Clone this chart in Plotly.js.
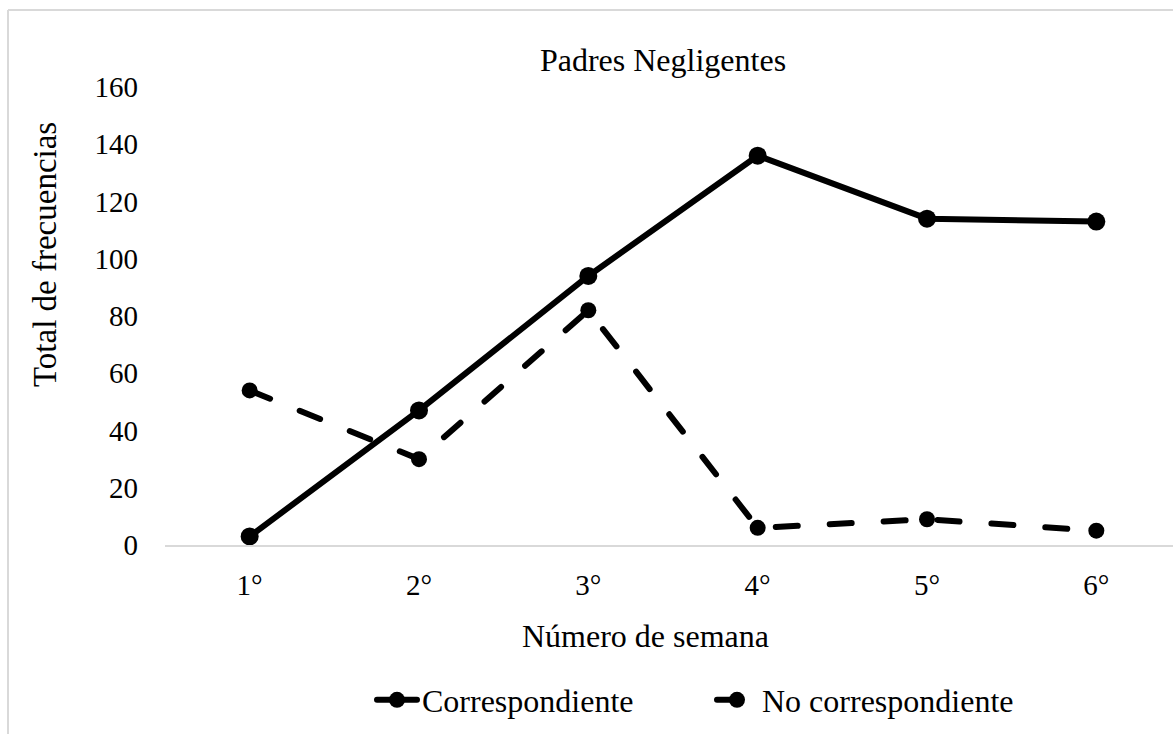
<!DOCTYPE html>
<html>
<head>
<meta charset="utf-8">
<script src="https://cdn.plot.ly/plotly-3.0.1.min.js"></script>
<style>
  html, body { margin: 0; padding: 0; background: #fff; }
  #chart { width: 1173px; height: 734px; }
  .scatterlayer .js-line, .legend .js-line { stroke-linecap: round !important; stroke-linejoin: round !important; }
</style>
</head>
<body>
<div id="chart"></div>
<script>
const weeks = ["1°", "2°", "3°", "4°", "5°", "6°"];
const correspondiente = [3, 47, 94, 136, 114, 113];
const noCorrespondiente = [54, 30, 82, 6, 9, 5];
const seriesNames = ["Correspondiente", "No correspondiente"];
const chartTitle = "Padres Negligentes";
const xTitle = "Número de semana";
const yTitle = "Total de frecuencias";
const yTicks = [0, 20, 40, 60, 80, 100, 120, 140, 160];

const font = "Liberation Serif, Times New Roman, serif";

const traces = [
  {
    x: weeks, y: correspondiente, name: seriesNames[0],
    type: "scatter", mode: "lines+markers",
    line: { color: "#000", width: 6 },
    marker: { color: "#000", size: 18, symbol: "circle" }
  },
  {
    x: weeks, y: noCorrespondiente, name: seriesNames[1],
    type: "scatter", mode: "lines+markers",
    line: { color: "#000", width: 6, dash: "22px,32px" },
    marker: { color: "#000", size: 16, symbol: "circle" }
  }
];

const L = 165, T = 87, B = 734 - 545, W = 1173 - L, H = 545 - T;
const px = v => (v - L) / W;
const py = v => (545 - v) / H;

const layout = {
  width: 1173, height: 734,
  margin: { l: L, r: 0, t: T, b: B },
  paper_bgcolor: "#fff", plot_bgcolor: "#fff",
  font: { family: font, size: 32, color: "#000" },
  showlegend: true,
  title: {
    text: chartTitle, font: { family: font, size: 32, color: "#000" },
    xref: "paper", x: px(663), xanchor: "center",
    yref: "container", y: 1 - 60 / 734, yanchor: "middle"
  },
  xaxis: {
    type: "category",
    range: [-0.5, 5.5 - (1181 - 1173) / 169.3],
    showgrid: false, zeroline: false,
    showline: true, linecolor: "#d9d9d9", linewidth: 2,
    ticks: "", ticklabelstandoff: 13,
    tickfont: { family: font, size: 29, color: "#000" },
    fixedrange: true
  },
  yaxis: {
    range: [0, 160], tickvals: yTicks,
    showgrid: false, zeroline: false, showline: false,
    ticks: "", ticklabelstandoff: 26,
    tickfont: { family: font, size: 29, color: "#000" },
    fixedrange: true
  },
  annotations: [
    { text: xTitle, xref: "paper", yref: "paper", x: px(645), y: py(636),
      xanchor: "center", yanchor: "middle", showarrow: false,
      font: { family: font, size: 32, color: "#000" } },
    { text: yTitle, xref: "paper", yref: "paper", x: px(45), y: py(255),
      xanchor: "center", yanchor: "middle", showarrow: false, textangle: -90,
      font: { family: font, size: 33, color: "#000" } }
  ],
  legend: {
    orientation: "h", xref: "paper", x: px(712), xanchor: "center",
    y: py(700), yanchor: "middle",
    font: { family: font, size: 32, color: "#000" },
    itemwidth: 40, entrywidth: 285, bgcolor: "rgba(0,0,0,0)"
  },
  shapes: [
    { type: "line", xref: "paper", yref: "paper", x0: px(8), x1: px(1175), y0: py(10), y1: py(10), line: { color: "#d9d9d9", width: 2 } },
    { type: "line", xref: "paper", yref: "paper", x0: px(8), x1: px(8), y0: py(10), y1: py(736), line: { color: "#d9d9d9", width: 2 } }
  ]
};

Plotly.newPlot("chart", traces, layout, { displayModeBar: false, staticPlot: true });
</script>
</body>
</html>
